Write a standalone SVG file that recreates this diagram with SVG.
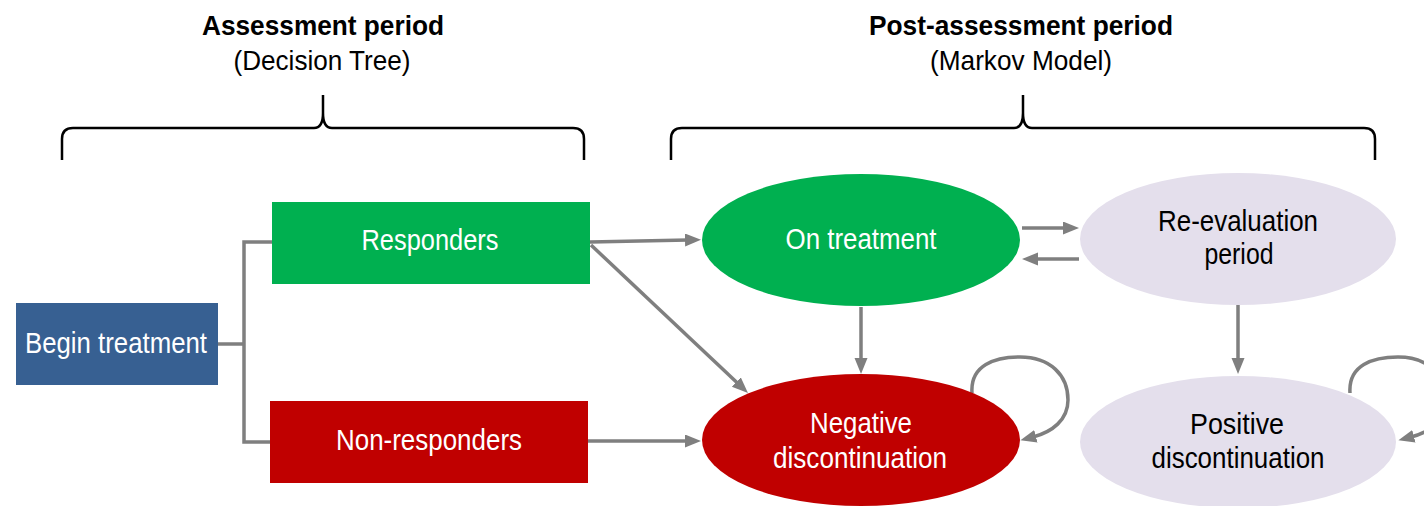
<svg xmlns="http://www.w3.org/2000/svg" width="1424" height="506" viewBox="0 0 1424 506">
<style>
text{font-family:"Liberation Sans",Arial,sans-serif;font-size:30px;text-anchor:middle}
.t{font-size:28px}
.w{fill:#ffffff}
.k{fill:#000000}
.b{font-weight:bold}
.brace{fill:none;stroke:#000;stroke-width:2.5}
.c{fill:none;stroke:#7f7f7f;stroke-width:3.5}
.a{marker-end:url(#ah)}
</style>
<defs>
<marker id="ah" markerUnits="userSpaceOnUse" markerWidth="16" markerHeight="14" refX="3" refY="6.5" orient="auto">
<path d="M0,0 L16,6.5 L0,13 z" fill="#7f7f7f"/>
</marker>
</defs>
<rect width="1424" height="506" fill="#ffffff"/>
<g id="header-assessment">
<text class="k b t" x="323" y="35" textLength="242" lengthAdjust="spacingAndGlyphs">Assessment period</text>
<text class="k t" x="322" y="70" textLength="177" lengthAdjust="spacingAndGlyphs">(Decision Tree)</text>
<path class="brace" d="M62 160 L62 139 Q62 128 73 128 L314 128 Q323 128 323 113 L323 95 M323 95 L323 113 Q323 128 332 128 L573 128 Q584 128 584 139 L584 160"/>
</g>
<g id="header-post">
<text class="k b t" x="1021" y="35" textLength="304" lengthAdjust="spacingAndGlyphs">Post-assessment period</text>
<text class="k t" x="1021" y="70" textLength="182" lengthAdjust="spacingAndGlyphs">(Markov Model)</text>
<path class="brace" d="M671 160 L671 139 Q671 128 682 128 L1014 128 Q1023 128 1023 113 L1023 95 M1023 95 L1023 113 Q1023 128 1032 128 L1364 128 Q1375 128 1375 139 L1375 160"/>
</g>
<g id="connectors">
<path class="c" d="M218 344 H244"/>
<path class="c" d="M272 242 H244 V442 H270"/>
<path class="c a" d="M590 242 L688 240"/>
<path class="c a" d="M591 245 L738.5 384.1"/>
<path class="c a" d="M588 441 L688 441"/>
<path class="c a" d="M861 307 L861 361"/>
<path class="c a" d="M1022 228 L1066 228"/>
<path class="c a" d="M1079 259 L1035 259"/>
<path class="c a" d="M1238 305 L1238 361"/>
<path class="c a" d="M972 393 C970 365 995 357 1020 357 C1050 357 1068 375 1068 400 C1068 420 1052 432 1033 437"/>
<path class="c a" d="M1350 393 C1348 365 1373 357 1398 357 C1428 357 1446 375 1446 400 C1446 420 1430 432 1411 437"/>
</g>
<g id="begin-treatment">
<rect x="16" y="303" width="202" height="82" fill="#376092"/>
<text class="w" x="116" y="353" textLength="182" lengthAdjust="spacingAndGlyphs">Begin treatment</text>
</g>
<g id="responders">
<rect x="272" y="202" width="318" height="82" fill="#00b050"/>
<text class="w" x="430" y="250" textLength="137" lengthAdjust="spacingAndGlyphs">Responders</text>
</g>
<g id="non-responders">
<rect x="270" y="401" width="318" height="82" fill="#c00000"/>
<text class="w" x="429" y="450" textLength="186" lengthAdjust="spacingAndGlyphs">Non-responders</text>
</g>
<g id="on-treatment">
<ellipse cx="861" cy="240" rx="159" ry="66" fill="#00b050"/>
<text class="w" x="861" y="249" textLength="151" lengthAdjust="spacingAndGlyphs">On treatment</text>
</g>
<g id="re-evaluation">
<ellipse cx="1238" cy="239" rx="158" ry="66" fill="#e4dfec"/>
<text class="k" x="1238" y="231" textLength="160" lengthAdjust="spacingAndGlyphs">Re-evaluation</text>
<text class="k" x="1239" y="264" textLength="69" lengthAdjust="spacingAndGlyphs">period</text>
</g>
<g id="negative-discontinuation">
<ellipse cx="861" cy="440" rx="159" ry="66" fill="#c00000"/>
<text class="w" x="861" y="433" textLength="102" lengthAdjust="spacingAndGlyphs">Negative</text>
<text class="w" x="860" y="468" textLength="174" lengthAdjust="spacingAndGlyphs">discontinuation</text>
</g>
<g id="positive-discontinuation">
<ellipse cx="1238" cy="442" rx="158" ry="66" fill="#e4dfec"/>
<text class="k" x="1237" y="434" textLength="94" lengthAdjust="spacingAndGlyphs">Positive</text>
<text class="k" x="1238" y="468" textLength="173" lengthAdjust="spacingAndGlyphs">discontinuation</text>
</g>
</svg>
